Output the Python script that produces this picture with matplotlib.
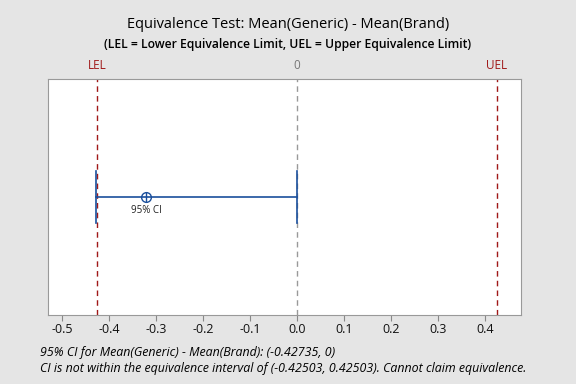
import matplotlib
matplotlib.use("Agg")
import matplotlib.pyplot as plt

plt.rcParams['font.family'] = ['Open Sans', 'DejaVu Sans']

lel = -0.42503
uel = 0.42503
ci_low = -0.42735
ci_high = 0.0
estimate = -0.3213
xticks = [-0.5, -0.4, -0.3, -0.2, -0.1, 0.0, 0.1, 0.2, 0.3, 0.4]
xlim = (-0.5298, 0.4766)

blue = '#1A4F9C'
red = '#A01818'
gray = '#999999'

fig = plt.figure(figsize=(5.76, 3.84), dpi=100, facecolor='#E5E5E5')
ax = fig.add_axes([0.0833, 0.1797, 0.8212, 0.6146])
ax.set_facecolor('white')
ax.set_xlim(*xlim)
ax.set_ylim(0, 1)

ax.axvline(lel, color=red, ls=(0, (4, 3)), lw=1)
ax.axvline(uel, color=red, ls=(0, (4, 3)), lw=1)
ax.axvline(0, color=gray, ls=(0, (4, 3)), lw=1)

y = 0.5
ax.plot([ci_low, ci_high], [y, y], color=blue, lw=1.2)
ax.plot([ci_low, ci_low], [y - 0.112, y + 0.112], color=blue, lw=1.2)
ax.plot([ci_high, ci_high], [y - 0.112, y + 0.112], color=blue, lw=1.2)
ax.plot([estimate], [y], marker='o', ms=7, mfc='none', mec=blue, mew=1.0)
ax.plot([estimate], [y], marker='|', ms=7, mec=blue, mew=1.0)
ax.text(estimate, y - 0.035, '95% CI', ha='center', va='top', fontsize=7, color='#222222')

ax.set_xticks(xticks)
ax.set_xticklabels([f'{t:.1f}' for t in xticks], fontsize=9)
ax.set_yticks([])
ax.tick_params(axis='x', length=4, pad=2, color='#888888', colors='#111111')
for s in ax.spines.values():
    s.set_color('#999999')

trans = ax.get_xaxis_transform()
ax.text(lel, 1.03, 'LEL', transform=trans, ha='center', va='bottom', fontsize=8.5, color=red)
ax.text(0, 1.03, '0', transform=trans, ha='center', va='bottom', fontsize=8.5, color='#777777')
ax.text(uel, 1.03, 'UEL', transform=trans, ha='center', va='bottom', fontsize=8.5, color=red)

fig.text(0.5, 0.935, 'Equivalence Test: Mean(Generic) - Mean(Brand)', ha='center', va='center', fontsize=10.5)
fig.text(0.5, 0.883, '(LEL = Lower Equivalence Limit, UEL = Upper Equivalence Limit)', ha='center', va='center', fontsize=8.7, fontweight='semibold')

fig.text(0.069, 0.083, '95% CI for Mean(Generic) - Mean(Brand): (-0.42735, 0)', ha='left', va='center', fontsize=8.9, style='italic')
fig.text(0.069, 0.041, 'CI is not within the equivalence interval of (-0.42503, 0.42503). Cannot claim equivalence.', ha='left', va='center', fontsize=8.9, style='italic')

fig.savefig('out.png', dpi=100, facecolor=fig.get_facecolor())
